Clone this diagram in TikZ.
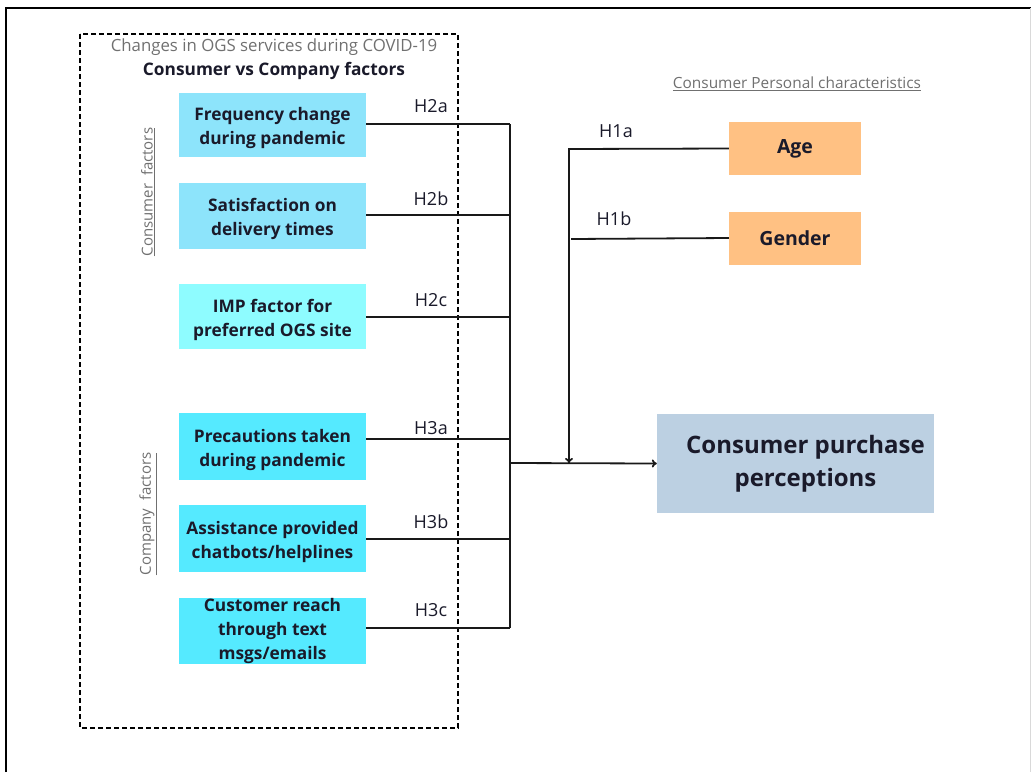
\documentclass[tikz,border=0pt]{standalone}
\usepackage{fontspec}
\setmainfont{Open Sans}
\usetikzlibrary{arrows.meta}
\definecolor{cblue}{HTML}{8DE4FB}
\definecolor{ccyanl}{HTML}{8EFCFF}
\definecolor{ccyan}{HTML}{55EAFF}
\definecolor{corange}{HTML}{FFC183}
\definecolor{cpp}{HTML}{BCD0E2}
\definecolor{txt}{HTML}{1A1A2A}
\definecolor{gtxt}{HTML}{707070}
\newcommand{\tpstrut}{\rule{0pt}{20pt}}
\tikzset{
  fbox/.style={minimum width=187pt, inner sep=0pt, align=center, text=txt,
    font=\fontsize{17.3}{24}\selectfont\bfseries},
  obox/.style={fill=corange, minimum width=132pt, minimum height=53pt, inner sep=0pt,
    text=txt, font=\fontsize{19.5}{24}\selectfont\bfseries},
  hlab/.style={text=txt, font=\fontsize{18}{20}\selectfont, inner sep=0pt, yshift=-2pt},
  conn/.style={line width=1.8pt, draw=black!90},
  gcap/.style={text=gtxt, font=\fontsize{15}{18}\selectfont, inner sep=0pt},
}
\begin{document}
\begin{tikzpicture}[x=1pt,y=-1pt]
\useasboundingbox (0,0) rectangle (1031,772);
% outer frame
\draw[line width=2pt] (6,772) -- (6,8) -- (1031,8);
\draw[black!15, line width=1pt] (1030,8) -- (1030,772);
% dashed group
\draw[line width=1.3pt, dashed, dash pattern=on 5pt off 3pt] (80,34) rectangle (458,728);
\node[gcap, font=\fontsize{16.8}{18}\selectfont] (title1) at (274,47) {Changes in OGS services during COVID-19};
\node[text=txt, font=\fontsize{17.3}{18}\selectfont\bfseries, inner sep=0pt] (title2) at (274,71) {Consumer vs Company factors};
\node[gcap, rotate=90] (cf) at (148,192) {\underline{Consumer\ \ factors}};
\node[gcap, rotate=90] (kf) at (148,514) {\underline{Company\ \ factors}};
% factor boxes
\node[fbox, fill=cblue, minimum height=64pt] (f1) at (272.5,125) {\tpstrut Frequency change\\during pandemic};
\node[fbox, fill=cblue, minimum height=66pt] (f2) at (272.5,216) {\tpstrut Satisfaction on\\delivery times};
\node[fbox, fill=ccyanl, minimum height=65pt] (f3) at (272.5,316.5) {\tpstrut IMP factor for\\preferred OGS site};
\node[fbox, fill=ccyan, minimum height=67pt] (f4) at (272.5,446.5) {\tpstrut Precautions taken\\during pandemic};
\node[fbox, fill=ccyan, minimum height=67pt] (f5) at (272.5,538.5) {\tpstrut Assistance provided\\chatbots/helplines};
\node[fbox, fill=ccyan, minimum height=66pt] (f6) at (272.5,631) {Customer reach\\through text\\msgs/emails};
% hypothesis labels
\node[hlab] (h2a) at (431,104) {H2a};
\node[hlab] (h2b) at (431,197) {H2b};
\node[hlab] (h2c) at (431,298) {H2c};
\node[hlab] (h3a) at (431,426) {H3a};
\node[hlab] (h3b) at (431,520) {H3b};
\node[hlab] (h3c) at (431,608) {H3c};
% bus
\coordinate (b1) at (510,124);
\coordinate (b6) at (510,628);
\coordinate (bm) at (510,463);
\draw[conn] (f1.east |- 0,124) -- (b1);
\draw[conn] (f2.east |- 0,215) -- (510,215);
\draw[conn] (f3.east |- 0,317) -- (510,317);
\draw[conn] (f4.east |- 0,439) -- (510,439);
\draw[conn] (f5.east |- 0,539) -- (510,539);
\draw[conn] (f6.east |- 0,628) -- (b6);
\draw[conn] (b1) -- (b6);
% right side
\node[gcap, font=\fontsize{15.4}{18}\selectfont] (pc) at (797,84) {\underline{Consumer Personal characteristics}};
\node[obox] (age) at (795,148.5) {Age};
\node[obox] (gender) at (795,238) {Gender};
\node[hlab] (h1a) at (616,129) {H1a};
\node[hlab] (h1b) at (614,217) {H1b};
\node[fill=cpp, minimum width=277pt, minimum height=99pt, inner sep=0pt, align=center,
  text=txt, font=\fontsize{24}{33}\selectfont\bfseries] (cpp) at (795.5,463.5)
  {\hspace*{20pt}Consumer purchase\\\hspace*{20pt}perceptions};
\coordinate (a1) at (569,149);
\coordinate (am) at (569,463);
\draw[conn] (age.west) -- (a1) -- (am);
\draw[conn, -{To[length=5pt,width=8pt]}] (a1) -- (am);
\draw[conn] (gender.west) -- (571,239);
\draw[conn, -{To[length=5pt,width=8pt]}] (bm) -- (cpp.west);
\end{tikzpicture}
\end{document}
